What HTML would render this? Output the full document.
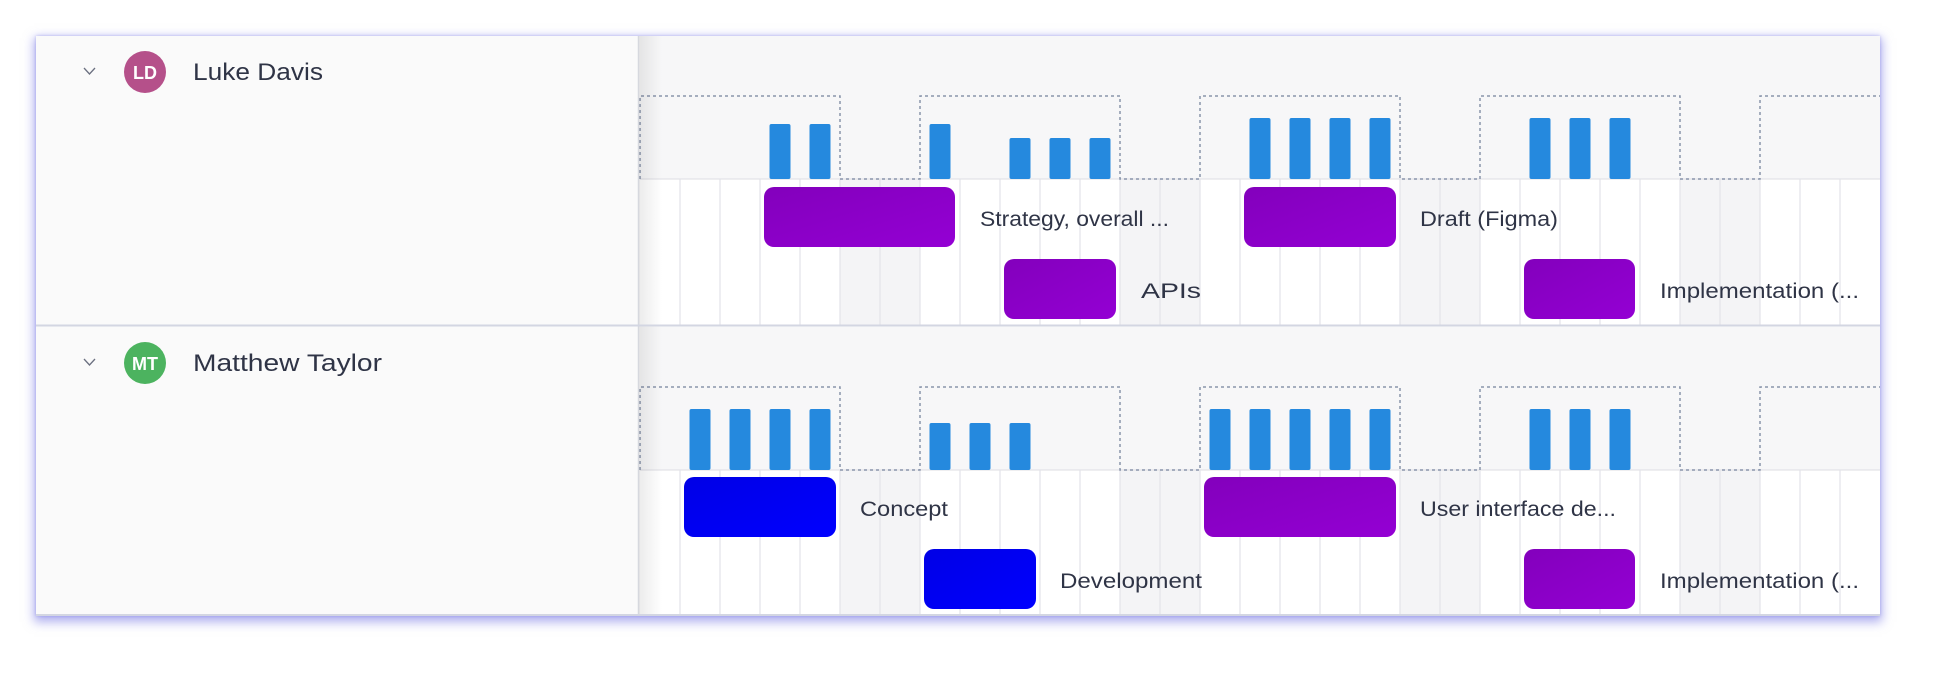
<!DOCTYPE html>
<html><head><meta charset="utf-8"><style>
html,body{margin:0;padding:0;background:#fff;width:1936px;height:677px;overflow:hidden}
#panel{position:absolute;left:36px;top:36px;width:1844px;height:580px;background:#fafafa;box-shadow:0 4px 10px 2px rgba(110,110,225,0.55),0 0 3px rgba(110,110,225,0.4)}
svg{position:absolute;left:0;top:0}
text{font-family:"Liberation Sans",sans-serif}
</style></head><body>
<div id="panel"></div>
<svg width="1936" height="677" viewBox="0 0 1936 677">
<defs>
<linearGradient id="pg" x1="0" y1="0" x2="1" y2="1"><stop offset="0" stop-color="#8300bc"/><stop offset="1" stop-color="#9400d4"/></linearGradient>
<linearGradient id="bg" x1="0" y1="0" x2="1" y2="1"><stop offset="0" stop-color="#0000e6"/><stop offset="1" stop-color="#0000ff"/></linearGradient>
<linearGradient id="sh" x1="0" y1="0" x2="1" y2="0"><stop offset="0" stop-color="#000" stop-opacity="0.08"/><stop offset="1" stop-color="#000" stop-opacity="0"/></linearGradient>
<g id="grid">
  <rect x="640" y="0" width="1240" height="143" fill="#f7f7f8"/>
  <rect x="640" y="143" width="1240" height="146" fill="#fff"/>
  <g fill="#f4f4f6">
    <rect x="840" y="143" width="80" height="146"/><rect x="1120" y="143" width="80" height="146"/>
    <rect x="1400" y="143" width="80" height="146"/><rect x="1680" y="143" width="80" height="146"/>
  </g>
  <g stroke="#e3e3e8" stroke-width="1.2">
    <line x1="680" y1="143" x2="680" y2="289"/><line x1="720" y1="143" x2="720" y2="289"/><line x1="760" y1="143" x2="760" y2="289"/><line x1="800" y1="143" x2="800" y2="289"/><line x1="840" y1="143" x2="840" y2="289"/><line x1="880" y1="143" x2="880" y2="289"/><line x1="920" y1="143" x2="920" y2="289"/><line x1="960" y1="143" x2="960" y2="289"/><line x1="1000" y1="143" x2="1000" y2="289"/><line x1="1040" y1="143" x2="1040" y2="289"/><line x1="1080" y1="143" x2="1080" y2="289"/><line x1="1120" y1="143" x2="1120" y2="289"/><line x1="1160" y1="143" x2="1160" y2="289"/><line x1="1200" y1="143" x2="1200" y2="289"/><line x1="1240" y1="143" x2="1240" y2="289"/><line x1="1280" y1="143" x2="1280" y2="289"/><line x1="1320" y1="143" x2="1320" y2="289"/><line x1="1360" y1="143" x2="1360" y2="289"/><line x1="1400" y1="143" x2="1400" y2="289"/><line x1="1440" y1="143" x2="1440" y2="289"/><line x1="1480" y1="143" x2="1480" y2="289"/><line x1="1520" y1="143" x2="1520" y2="289"/><line x1="1560" y1="143" x2="1560" y2="289"/><line x1="1600" y1="143" x2="1600" y2="289"/><line x1="1640" y1="143" x2="1640" y2="289"/><line x1="1680" y1="143" x2="1680" y2="289"/><line x1="1720" y1="143" x2="1720" y2="289"/><line x1="1760" y1="143" x2="1760" y2="289"/><line x1="1800" y1="143" x2="1800" y2="289"/><line x1="1840" y1="143" x2="1840" y2="289"/>
    <line x1="640" y1="143" x2="1880" y2="143"/>
  </g>
  <path d="M640,143 V60 H840 V143 H920 V60 H1120 V143 H1200 V60 H1400 V143 H1480 V60 H1680 V143 H1760 V60 H1880" fill="none" stroke="#8a95ab" stroke-width="1.5" stroke-dasharray="3,3"/>
</g>
</defs>
<g transform="translate(0,36)"><use href="#grid"/></g>
<g transform="translate(0,327)"><use href="#grid"/></g>
<rect x="638" y="36" width="24" height="580" fill="url(#sh)"/>
<line x1="638.5" y1="36" x2="638.5" y2="616" stroke="#d6d8de" stroke-width="1.5"/>
<line x1="36" y1="325.5" x2="1880" y2="325.5" stroke="#d3d6e2" stroke-width="2"/>
<line x1="36" y1="615" x2="1880" y2="615" stroke="#d3d6e2" stroke-width="2"/>

<g fill="#2589de">
<rect x="769.5" y="124" width="21" height="55" rx="2"/><rect x="809.5" y="124" width="21" height="55" rx="2"/>
<rect x="929.5" y="124" width="21" height="55" rx="2"/>
<rect x="1009.5" y="138" width="21" height="41" rx="2"/><rect x="1049.5" y="138" width="21" height="41" rx="2"/><rect x="1089.5" y="138" width="21" height="41" rx="2"/>
<rect x="1249.5" y="118" width="21" height="61" rx="2"/><rect x="1289.5" y="118" width="21" height="61" rx="2"/><rect x="1329.5" y="118" width="21" height="61" rx="2"/><rect x="1369.5" y="118" width="21" height="61" rx="2"/>
<rect x="1529.5" y="118" width="21" height="61" rx="2"/><rect x="1569.5" y="118" width="21" height="61" rx="2"/><rect x="1609.5" y="118" width="21" height="61" rx="2"/>
<rect x="689.5" y="409" width="21" height="61" rx="2"/><rect x="729.5" y="409" width="21" height="61" rx="2"/><rect x="769.5" y="409" width="21" height="61" rx="2"/><rect x="809.5" y="409" width="21" height="61" rx="2"/>
<rect x="929.5" y="423" width="21" height="47" rx="2"/><rect x="969.5" y="423" width="21" height="47" rx="2"/><rect x="1009.5" y="423" width="21" height="47" rx="2"/>
<rect x="1209.5" y="409" width="21" height="61" rx="2"/><rect x="1249.5" y="409" width="21" height="61" rx="2"/><rect x="1289.5" y="409" width="21" height="61" rx="2"/><rect x="1329.5" y="409" width="21" height="61" rx="2"/><rect x="1369.5" y="409" width="21" height="61" rx="2"/>
<rect x="1529.5" y="409" width="21" height="61" rx="2"/><rect x="1569.5" y="409" width="21" height="61" rx="2"/><rect x="1609.5" y="409" width="21" height="61" rx="2"/>
</g>

<rect x="764" y="187" width="191" height="60" rx="10" fill="url(#pg)"/>
<rect x="1244" y="187" width="152" height="60" rx="10" fill="url(#pg)"/>
<rect x="1004" y="259" width="112" height="60" rx="10" fill="url(#pg)"/>
<rect x="1524" y="259" width="111" height="60" rx="10" fill="url(#pg)"/>
<rect x="684" y="477" width="152" height="60" rx="10" fill="url(#bg)"/>
<rect x="924" y="549" width="112" height="60" rx="10" fill="url(#bg)"/>
<rect x="1204" y="477" width="192" height="60" rx="10" fill="url(#pg)"/>
<rect x="1524" y="549" width="111" height="60" rx="10" fill="url(#pg)"/>

<g font-size="21" fill="#2f3446">
<text x="980" y="226" textLength="189" lengthAdjust="spacingAndGlyphs">Strategy, overall ...</text>
<text x="1420" y="226" textLength="138" lengthAdjust="spacingAndGlyphs">Draft (Figma)</text>
<text x="1141" y="298" textLength="60" lengthAdjust="spacingAndGlyphs">APIs</text>
<text x="1660" y="298" textLength="199" lengthAdjust="spacingAndGlyphs">Implementation (...</text>
<text x="860" y="516" textLength="88" lengthAdjust="spacingAndGlyphs">Concept</text>
<text x="1060" y="588" textLength="142" lengthAdjust="spacingAndGlyphs">Development</text>
<text x="1420" y="516" textLength="196" lengthAdjust="spacingAndGlyphs">User interface de...</text>
<text x="1660" y="588" textLength="199" lengthAdjust="spacingAndGlyphs">Implementation (...</text>
</g>

<path d="M84,68 L89.5,74 L95,68" fill="none" stroke="#6b7080" stroke-width="1.3"/>
<circle cx="145" cy="72" r="21" fill="#b5508a"/>
<text x="145" y="79" font-size="18" font-weight="bold" fill="#fff" text-anchor="middle">LD</text>
<text x="193" y="80" font-size="24" fill="#2f3446" textLength="130" lengthAdjust="spacingAndGlyphs">Luke Davis</text>
<path d="M84,359 L89.5,365 L95,359" fill="none" stroke="#6b7080" stroke-width="1.3"/>
<circle cx="145" cy="363" r="21" fill="#4cb35f"/>
<text x="145" y="370" font-size="18" font-weight="bold" fill="#fff" text-anchor="middle">MT</text>
<text x="193" y="371" font-size="24" fill="#2f3446" textLength="189" lengthAdjust="spacingAndGlyphs">Matthew Taylor</text>
</svg>
</body></html>
